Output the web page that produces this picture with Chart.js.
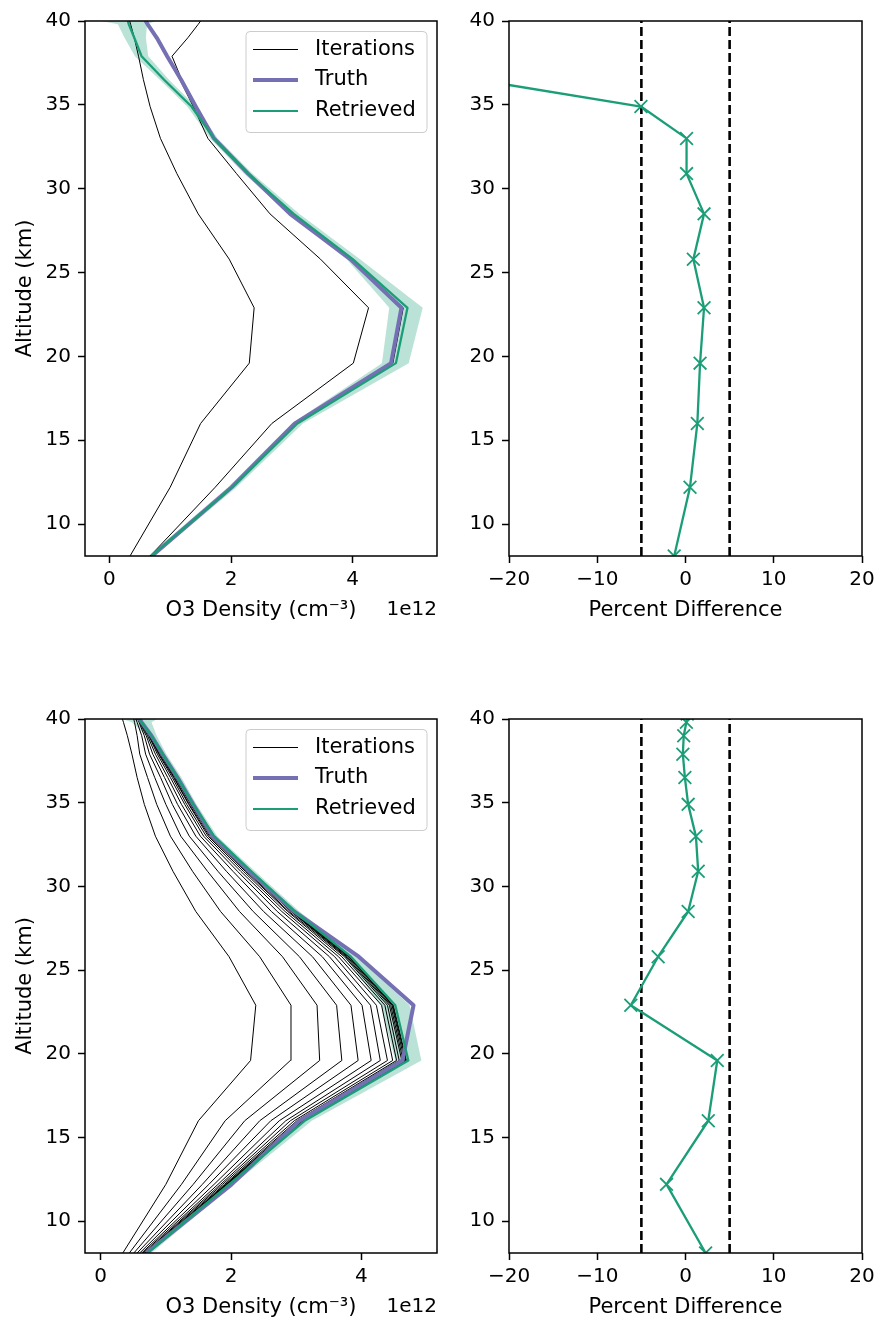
<!DOCTYPE html>
<html>
<head>
<meta charset="utf-8">
<script src="https://cdn.jsdelivr.net/npm/chart.js@4.4.1/dist/chart.umd.min.js"></script>
<style>
  body { margin: 0; background: #fff; }
  #wrap { position: relative; width: 881px; height: 1324px; }
  canvas { position: absolute; }
</style>
</head>
<body>
<div id="wrap">
  <canvas id="densTop" width="450" height="660" style="left:0;top:0"></canvas>
  <canvas id="diffTop" width="431" height="660" style="left:450px;top:0"></canvas>
  <canvas id="densBot" width="450" height="662" style="left:0;top:662px"></canvas>
  <canvas id="diffBot" width="431" height="662" style="left:450px;top:662px"></canvas>
</div>
<script>
// altitude levels (km)
var altitudes = [8.1, 12.2, 16.0, 19.6, 22.9, 25.8, 28.5, 30.9, 33.0, 34.9, 36.5, 37.9, 39.0, 39.8, 40.3];

// O3 density, units of 1e12 cm^-3
var truth = [0.70, 2.01, 3.05, 4.63, 4.80, 3.96, 2.97, 2.28, 1.72, 1.42, 1.18, 0.95, 0.78, 0.63, 0.55];

var retrievedTop = [0.69, 2.02, 3.09, 4.71, 4.90, 4.00, 3.03, 2.28, 1.72, 1.35, 0.90, 0.53, 0.41, 0.32, 0.28];
var lowTop = [0.64, 1.95, 3.00, 4.48, 4.60, 3.90, 2.95, 2.21, 1.66, 1.28, 0.83, 0.42, 0.25, 0.14, -0.55];
var highTop = [0.74, 2.09, 3.18, 4.92, 5.15, 4.12, 3.12, 2.35, 1.78, 1.42, 0.98, 0.64, 0.60, 0.62, 0.98];
var iterTop = [
  [0.34, 1.00, 1.50, 2.30, 2.38, 1.97, 1.46, 1.11, 0.84, 0.67, 0.56, 0.48, 0.41, 0.35, 0.31],
  [0.67, 1.74, 2.67, 4.01, 4.26, 3.47, 2.64, 2.09, 1.62, 1.38, 1.16, 0.94, 0.77, 0.62, 0.55],
  [0.68, 2.02, 3.07, 4.66, 4.83, 3.98, 2.99, 2.29, 1.72, 1.40, 1.19, 1.03, 1.29, 1.46, 1.56]
];
var pctTop = [-1.28, 0.51, 1.34, 1.65, 2.1, 0.89, 2.1, 0.12, 0.12, -5.05, -23.7, -44, -47, -49, -49];

var retrievedBot = [0.72, 1.97, 3.13, 4.72, 4.52, 3.84, 2.98, 2.31, 1.74, 1.42, 1.18, 0.95, 0.78, 0.63, 0.55];
var lowBot = [0.66, 1.90, 3.02, 4.52, 4.30, 3.74, 2.91, 2.25, 1.69, 1.37, 1.12, 0.89, 0.70, 0.48, 0.10];
var highBot = [0.78, 2.04, 3.24, 4.92, 4.74, 3.94, 3.05, 2.37, 1.79, 1.47, 1.24, 1.01, 0.86, 0.78, 1.00];
var iterBot = [
  [0.34, 1.00, 1.50, 2.30, 2.38, 1.97, 1.46, 1.11, 0.84, 0.67, 0.56, 0.48, 0.41, 0.35, 0.31],
  [0.44, 1.24, 1.91, 2.91, 2.92, 2.44, 1.84, 1.41, 1.07, 0.86, 0.72, 0.60, 0.56, 0.52, 0.49],
  [0.51, 1.42, 2.21, 3.36, 3.32, 2.79, 2.13, 1.64, 1.23, 1.00, 0.83, 0.69, 0.63, 0.56, 0.51],
  [0.56, 1.56, 2.44, 3.70, 3.62, 3.05, 2.34, 1.80, 1.36, 1.10, 0.92, 0.75, 0.67, 0.59, 0.53],
  [0.60, 1.66, 2.61, 3.95, 3.84, 3.25, 2.50, 1.93, 1.46, 1.18, 0.98, 0.80, 0.70, 0.60, 0.54],
  [0.63, 1.74, 2.74, 4.15, 4.01, 3.40, 2.62, 2.03, 1.53, 1.24, 1.03, 0.84, 0.72, 0.61, 0.54],
  [0.65, 1.80, 2.84, 4.29, 4.14, 3.51, 2.71, 2.10, 1.58, 1.29, 1.07, 0.87, 0.74, 0.62, 0.54],
  [0.67, 1.84, 2.91, 4.40, 4.23, 3.59, 2.78, 2.15, 1.62, 1.32, 1.10, 0.89, 0.75, 0.62, 0.55],
  [0.68, 1.87, 2.97, 4.48, 4.31, 3.65, 2.83, 2.19, 1.65, 1.35, 1.12, 0.90, 0.75, 0.62, 0.55],
  [0.69, 1.90, 3.01, 4.54, 4.36, 3.70, 2.87, 2.22, 1.67, 1.36, 1.13, 0.92, 0.76, 0.62, 0.55],
  [0.70, 1.92, 3.04, 4.58, 4.40, 3.74, 2.89, 2.24, 1.69, 1.38, 1.15, 0.92, 0.76, 0.63, 0.55],
  [0.70, 1.93, 3.06, 4.62, 4.43, 3.76, 2.92, 2.26, 1.70, 1.39, 1.15, 0.93, 0.77, 0.63, 0.55],
  [0.71, 1.94, 3.08, 4.64, 4.45, 3.78, 2.93, 2.27, 1.71, 1.40, 1.16, 0.94, 0.77, 0.63, 0.55],
  [0.71, 1.95, 3.09, 4.66, 4.47, 3.80, 2.94, 2.28, 1.72, 1.40, 1.17, 0.94, 0.77, 0.63, 0.55],
  [0.71, 1.95, 3.10, 4.68, 4.48, 3.81, 2.95, 2.29, 1.72, 1.41, 1.17, 0.94, 0.78, 0.63, 0.55],
  [0.72, 1.96, 3.11, 4.69, 4.49, 3.82, 2.96, 2.29, 1.73, 1.41, 1.17, 0.94, 0.78, 0.63, 0.55]
];
var pctBot = [2.28, -2.15, 2.58, 3.6, -6.2, -3.1, 0.3, 1.44, 1.18, 0.3, -0.07, -0.3, -0.2, 0.1, 0.2];

var pctLimits = [-5, 5];
var altRange = [8.1, 40];
var altTicks = [10, 15, 20, 25, 30, 35, 40];
var densTicks = [0, 2, 4];
var pctTicks = [-20, -10, 0, 10, 20];

var green = '#1b9e77';
var purple = '#7570b3';
var bandColor = 'rgba(27,158,119,0.3)';

Chart.defaults.font.family = "'DejaVu Sans', sans-serif";
Chart.defaults.font.size = 20;
Chart.defaults.color = '#000';

function pts(xs) {
  return xs.map(function (v, i) { return {x: v, y: altitudes[i]}; });
}

function minusSign(v) {
  return String(v).replace('-', '\u2212');
}

// frame, legend box and the "1e12" offset label
var decorPlugin = {
  id: 'decor',
  afterDatasetsDraw: function (chart, args, opts) {
    var ctx = chart.ctx, a = chart.chartArea;
    ctx.save();
    ctx.strokeStyle = '#000';
    ctx.lineWidth = 1.5;
    ctx.strokeRect(a.left, a.top, a.right - a.left, a.bottom - a.top);
    ctx.fillStyle = '#000';
    if (opts.offsetText) {
      ctx.font = "20px 'DejaVu Sans'";
      ctx.textAlign = 'right';
      ctx.textBaseline = 'alphabetic';
      ctx.fillText(opts.offsetText, a.right, a.bottom + 59);
    }
    if (opts.items) {
      var w = 181, h = 101, x0 = a.right - 10 - w, y0 = a.top + 10.5;
      ctx.beginPath();
      ctx.roundRect(x0, y0, w, h, 4);
      ctx.fillStyle = 'rgba(255,255,255,0.8)';
      ctx.fill();
      ctx.strokeStyle = '#cccccc';
      ctx.lineWidth = 1;
      ctx.stroke();
      ctx.font = "21px 'DejaVu Sans'";
      opts.items.forEach(function (it, i) {
        var y = Math.round(y0 + 17.5 + i * 31) + (it.width % 2 ? 0.5 : 0);
        ctx.beginPath();
        ctx.moveTo(x0 + 7, y);
        ctx.lineTo(x0 + 52, y);
        ctx.strokeStyle = it.color;
        ctx.lineWidth = it.width;
        ctx.stroke();
        ctx.fillStyle = '#000';
        ctx.textAlign = 'left';
        ctx.textBaseline = 'middle';
        ctx.fillText(it.label, x0 + 69, y);
      });
    }
    ctx.restore();
  }
};

var legendItems = [
  {label: 'Iterations', color: '#000', width: 1},
  {label: 'Truth', color: purple, width: 4},
  {label: 'Retrieved', color: green, width: 2}
];

function densitySets(retrieved, low, high, iters) {
  var sets = [
    {data: pts(low), borderWidth: 0, pointRadius: 0, fill: false, order: 100},
    {data: pts(high), borderWidth: 0, pointRadius: 0, backgroundColor: bandColor, fill: '-1', order: 99}
  ];
  iters.forEach(function (it) {
    sets.push({data: pts(it), borderColor: '#000', borderWidth: 1, pointRadius: 0, fill: false, order: 50});
  });
  sets.push({data: pts(truth), borderColor: purple, borderWidth: 4, pointRadius: 0, fill: false, order: 20});
  sets.push({data: pts(retrieved), borderColor: green, borderWidth: 2.3, pointRadius: 0, fill: false, order: 10});
  return sets;
}

function pctSets(pct) {
  var sets = pctLimits.map(function (b) {
    return {
      data: [{x: b, y: altRange[0]}, {x: b, y: altRange[1]}],
      borderColor: '#000', borderWidth: 2.6, borderDash: [9, 4], pointRadius: 0, fill: false, order: 20
    };
  });
  sets.push({
    data: pts(pct), borderColor: green, borderWidth: 2.3, fill: false, order: 10,
    pointStyle: 'crossRot', pointRadius: 9, pointBorderWidth: 1.8,
    pointBorderColor: green, pointBackgroundColor: green
  });
  return sets;
}

function tickGrid() {
  return {drawOnChartArea: false, drawTicks: true, tickLength: 7, tickWidth: 1.5, tickColor: '#000'};
}

function makeChart(id, o) {
  return new Chart(document.getElementById(id), {
    type: 'line',
    data: {datasets: o.datasets},
    options: {
      indexAxis: 'y',
      responsive: false,
      animation: false,
      layout: {autoPadding: false, padding: {left: 0, top: o.top, right: o.right, bottom: 0}},
      elements: {line: {tension: 0, borderJoinStyle: 'round'}},
      plugins: {
        legend: {display: false},
        tooltip: {enabled: false},
        decor: {items: o.items, offsetText: o.offsetText}
      },
      scales: {
        x: {
          type: 'linear', min: o.xMin, max: o.xMax,
          border: {display: false},
          grid: tickGrid(),
          ticks: {padding: 5, maxRotation: 0, callback: minusSign},
          title: {display: true, text: o.xTitle, font: {size: 21}, padding: {top: 0, bottom: o.titlePad}},
          afterBuildTicks: function (s) { s.ticks = o.xTicks.map(function (v) { return {value: v}; }); },
          afterFit: function (s) { s.height = o.xAxisH; s.paddingLeft = 0; s.paddingRight = 0; }
        },
        y: {
          type: 'linear', min: altRange[0], max: altRange[1],
          border: {display: false},
          grid: tickGrid(),
          ticks: {padding: 7, callback: minusSign},
          title: {display: !!o.yTitle, text: o.yTitle || '', font: {size: 21}, padding: {top: 13, bottom: 0}},
          afterBuildTicks: function (s) { s.ticks = altTicks.map(function (v) { return {value: v}; }); },
          afterFit: function (s) { s.width = o.yAxisW; s.paddingTop = 0; s.paddingBottom = 0; }
        }
      }
    },
    plugins: [decorPlugin]
  });
}

makeChart('densTop', {
  datasets: densitySets(retrievedTop, lowTop, highTop, iterTop),
  xMin: -0.40, xMax: 5.385, xTicks: densTicks, xTitle: 'O3 Density (cm\u207B\u00B3)',
  yTitle: 'Altitude (km)', top: 21, right: 13, yAxisW: 85, xAxisH: 104, titlePad: 37,
  items: legendItems, offsetText: '1e12'
});
makeChart('diffTop', {
  datasets: pctSets(pctTop),
  xMin: -20, xMax: 20, xTicks: pctTicks, xTitle: 'Percent Difference',
  top: 21, right: 19, yAxisW: 59, xAxisH: 104, titlePad: 37
});
makeChart('densBot', {
  datasets: densitySets(retrievedBot, lowBot, highBot, iterBot),
  xMin: -0.24, xMax: 5.16, xTicks: densTicks, xTitle: 'O3 Density (cm\u207B\u00B3)',
  yTitle: 'Altitude (km)', top: 57, right: 13, yAxisW: 85, xAxisH: 71, titlePad: 4,
  items: legendItems, offsetText: '1e12'
});
makeChart('diffBot', {
  datasets: pctSets(pctBot),
  xMin: -20, xMax: 20, xTicks: pctTicks, xTitle: 'Percent Difference',
  top: 57, right: 19, yAxisW: 59, xAxisH: 71, titlePad: 4
});
</script>
</body>
</html>
